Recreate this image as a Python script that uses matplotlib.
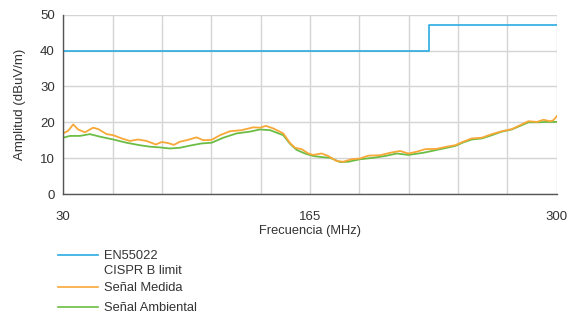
import matplotlib
matplotlib.use("Agg")
import matplotlib.pyplot as plt
import numpy as np
from matplotlib.lines import Line2D

plt.rcParams['font.family'] = ['Liberation Sans', 'DejaVu Sans']

# limite EN55022 / CISPR B
limit_freq = [30, 230, 300]
limit_val = [40, 47, 47]

# señal medida (MHz, dBuV/m)
medida_freq = [30, 32.7, 35.5, 38.2, 41.9, 46.4, 49.2, 53.8, 57.4, 62.0, 66.5, 71.0,
               75.6, 80.7, 83.9, 87.5, 90.6, 93.9, 97.5, 103.0, 106.6, 111.2, 115.8,
               121.2, 127.6, 134.0, 137.7, 140.9, 144.9, 150.4, 154.1, 156.8, 160.5,
               164.1, 166.8, 171.4, 175.0, 179.6, 183.2, 187.8, 192.4, 196.9, 203.3,
               208.8, 214.3, 218.8, 223.4, 228.0, 234.4, 239.8, 244.4, 248.9, 253.5,
               259.0, 264.5, 269.9, 275.4, 280.0, 284.5, 289.1, 292.7, 296.4, 298.2, 300]
medida_val = [16.9, 17.6, 19.4, 18.0, 17.2, 18.5, 18.1, 16.7, 16.4, 15.5, 14.8, 15.2,
              14.8, 13.8, 14.5, 14.2, 13.7, 14.6, 15.0, 15.8, 15.0, 15.1, 16.4,
              17.5, 17.8, 18.6, 18.5, 19.0, 18.3, 16.9, 14.2, 12.9, 12.5,
              11.3, 10.9, 11.3, 10.6, 9.2, 9.0, 9.7, 9.9, 10.7, 10.8,
              11.5, 12.0, 11.3, 11.8, 12.5, 12.6, 13.2, 13.6, 14.6, 15.5,
              15.7, 16.7, 17.5, 18.1, 19.2, 20.3, 20.1, 20.7, 20.3, 20.6, 21.7]

# señal ambiental
ambiental_freq = [30, 33.7, 39.1, 44.6, 50.1, 57.4, 64.7, 72.0, 77.5, 82.9, 88.4, 93.9,
                  99.4, 105.7, 111.2, 117.6, 124.9, 132.2, 137.7, 143.2, 150.4, 154.1,
                  157.7, 162.3, 166.8, 171.4, 176.0, 181.5, 186.0, 192.4, 199.7, 206.1,
                  212.5, 218.8, 227.0, 234.4, 239.8, 244.4, 248.9, 253.5, 259.0, 264.5,
                  269.9, 275.4, 280.0, 284.5, 289.1, 294.6, 300]
ambiental_val = [15.7, 16.2, 16.2, 16.7, 16.0, 15.2, 14.3, 13.6, 13.2, 13.0, 12.7, 12.9,
                 13.5, 14.1, 14.3, 15.7, 16.9, 17.4, 18.0, 17.8, 16.4, 14.0,
                 12.3, 11.3, 10.6, 10.3, 10.1, 8.9, 9.0, 9.7, 10.1, 10.6,
                 11.3, 10.9, 11.5, 12.3, 12.9, 13.4, 14.4, 15.2, 15.5, 16.4,
                 17.4, 18.0, 19.0, 20.0, 20.0, 20.1, 20.1]

x_ticks = [30, 165, 300]
y_ticks = [0, 10, 20, 30, 40, 50]

c_limit = '#29abe2'
c_medida = '#f8a838'
c_amb = '#6cbd45'

fig = plt.figure(figsize=(5.74, 3.16), dpi=100)
ax = fig.add_axes([0.110, 0.386, 0.860, 0.5675])

ax.set_xlim(30, 300)
ax.set_ylim(0, 50)
ax.set_xticks(np.arange(30, 301, 27), minor=True)
ax.set_xticks(x_ticks)
ax.set_yticks(y_ticks)
ax.grid(True, which='both', axis='x', color='#d4d4d4', lw=1)
ax.grid(True, axis='y', color='#d4d4d4', lw=1)
ax.set_axisbelow(True)
ax.tick_params(which='both', length=0, labelsize=9.5, colors='#333333')
ax.tick_params(axis='x', pad=12)
ax.tick_params(axis='y', pad=6)
for s in ['top', 'right']:
    ax.spines[s].set_visible(False)
for s in ['left', 'bottom']:
    ax.spines[s].set_color('#555555')
    ax.spines[s].set_linewidth(1)

ax.step(limit_freq, limit_val, where='post', color=c_limit, lw=1.2)
ax.plot(ambiental_freq, ambiental_val, color=c_amb, lw=1.3)
ax.plot(medida_freq, medida_val, color=c_medida, lw=1.3)

ax.set_xlabel('Frecuencia (MHz)', fontsize=9.3, color='#333333', labelpad=2)
ax.set_ylabel('Amplitud (dBuV/m)', fontsize=9.5, color='#333333', labelpad=10)

# leyenda
W, H = 574, 316
entries = [(255, c_limit, 'EN55022\nCISPR B limit'),
           (287, c_medida, 'Señal Medida'),
           (307, c_amb, 'Señal Ambiental')]
for yp, col, txt in entries:
    fig.add_artist(Line2D([58 / W, 98 / W], [1 - yp / H, 1 - yp / H], color=col, lw=1.2))
    fig.text(104 / W, 1 - (yp - 5) / H, txt, fontsize=9.3, color='#333333',
             va='top', ha='left', linespacing=1.35)

fig.savefig('out.png', dpi=100)
